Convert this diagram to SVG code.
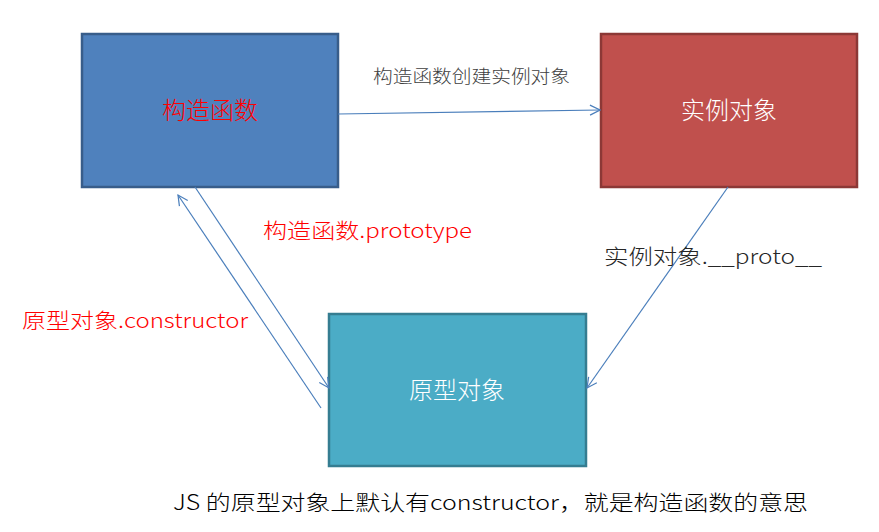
<svg xmlns="http://www.w3.org/2000/svg" width="879" height="532" viewBox="0 0 879 532">
<style>
text{font-family:"Noto Sans CJK SC","Noto Sans",sans-serif;font-weight:300;}
.box{stroke-width:2.5;}
.lbl{font-size:24px;text-anchor:middle;}
.conn{stroke:#4a7ebb;stroke-width:1.2;fill:none;marker-end:url(#arr);}
.note{font-size:21px;}
</style>
<defs>
<marker id="arr" viewBox="0 0 12 12" refX="11" refY="6" markerWidth="12" markerHeight="12" markerUnits="userSpaceOnUse" orient="auto">
<path d="M1,1 L11,6 L1,11" fill="none" stroke="#4a7ebb" stroke-width="1.2"/>
</marker>
</defs>
<rect width="879" height="532" fill="#ffffff"/>
<g id="constructor">
<rect class="box" x="82" y="34" width="256" height="153" fill="#4f81bd" stroke="#385d8a"/>
<text class="lbl" x="210" y="119" fill="#ff0000">构造函数</text>
</g>
<g id="instance">
<rect class="box" x="601" y="34" width="256" height="153" fill="#c0504d" stroke="#8c3836"/>
<text class="lbl" x="729" y="119" fill="#ffffff">实例对象</text>
</g>
<g id="prototype">
<rect class="box" x="329" y="314" width="257" height="152" fill="#4bacc6" stroke="#357d91"/>
<text class="lbl" x="457" y="399" fill="#ffffff">原型对象</text>
</g>
<g id="connectors">
<line class="conn" x1="338" y1="114" x2="600" y2="110"/>
<line class="conn" x1="195" y1="187" x2="329" y2="388"/>
<line class="conn" x1="321" y1="408" x2="178" y2="195"/>
<line class="conn" x1="728" y1="187" x2="587" y2="388"/>
</g>
<g id="labels">
<text x="373" y="83" font-size="18" fill="#404040" textLength="197" lengthAdjust="spacingAndGlyphs">构造函数创建实例对象</text>
<text class="note" x="263" y="238" fill="#ff0000" textLength="209" lengthAdjust="spacingAndGlyphs">构造函数.prototype</text>
<text class="note" x="604" y="264" fill="#262626" textLength="218" lengthAdjust="spacingAndGlyphs">实例对象.__proto__</text>
<text class="note" x="22" y="328" fill="#ff0000" textLength="226" lengthAdjust="spacingAndGlyphs">原型对象.constructor</text>
<text class="note" x="173" y="510" fill="#000000" textLength="635" lengthAdjust="spacingAndGlyphs">JS 的原型对象上默认有constructor，就是构造函数的意思</text>
</g>
</svg>
